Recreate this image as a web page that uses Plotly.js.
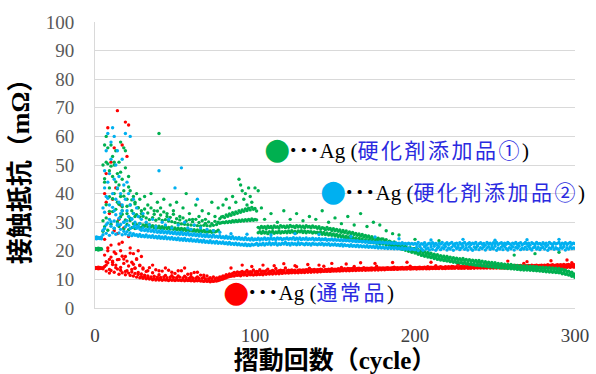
<!DOCTYPE html>
<html>
<head>
<meta charset="utf-8">
<script src="https://cdn.plot.ly/plotly-3.0.1.min.js"></script>
<style>html,body{margin:0;padding:0;background:#fff;}#chart{width:596px;height:374px;}</style>
</head>
<body>
<div id="chart"></div>
<script>
// ---- tick labels ----
const xTicks = [0, 100, 200, 300];
const yTicks = [0, 10, 20, 30, 40, 50, 60, 70, 80, 90, 100];

// ---- series names ----
const seriesNames = ["Ag (通常品)", "Ag (硬化剤添加品①)", "Ag (硬化剤添加品②)"];

// ---- 通常品 (red): two readings per cycle, cycles 0..300 ----
const redA = [
14.2,14.1,14.3,14.2,14.0,14.1,18.5,16.2,21.0,13.5,
17.8,15.2,19.6,14.1,16.9,22.4,13.2,18.1,15.6,12.8,
16.4,14.7,19.2,12.6,15.3,13.9,17.2,12.4,14.8,11.9,
13.6,11.5,12.8,11.2,14.1,10.9,12.3,11.1,13.4,10.8,
11.6,10.7,12.9,10.9,11.4,10.6,13.2,10.8,11.3,10.7,
12.1,10.6,11.2,10.8,13.0,10.5,11.1,10.6,11.8,10.4,
11.0,10.5,12.4,10.4,10.9,10.3,11.5,10.4,10.8,10.2,
11.2,10.2,10.6,10.1,10.9,10.2,10.5,10.4,10.9,10.8,
11.2,11.0,11.6,11.4,11.9,11.7,12.1,12.4,12.2,12.6,
12.3,12.5,12.8,12.4,12.6,13.1,12.5,12.7,12.6,13.3,
12.6,12.8,12.7,13.4,12.7,12.9,12.8,13.0,13.6,12.8,
12.9,13.1,12.9,13.8,12.9,13.0,13.2,13.0,13.1,14.0,
13.0,13.2,13.1,13.3,13.0,13.2,14.4,13.2,13.3,13.1,
13.3,13.2,13.4,13.3,13.9,13.4,13.3,13.5,13.3,13.4,
13.4,13.6,13.4,14.6,13.5,13.4,13.6,13.5,13.7,13.5,
13.6,13.5,13.7,13.6,14.2,13.6,13.7,13.6,13.8,13.7,
13.7,13.8,14.5,13.7,13.8,13.9,13.7,13.8,14.1,13.8,
13.9,13.8,13.9,14.0,13.8,13.9,14.6,13.9,14.0,13.9,
14.0,13.9,14.0,14.1,13.9,14.0,14.1,14.3,14.0,14.1,
14.0,14.1,14.2,14.0,14.1,14.2,14.1,14.6,14.2,14.1,
14.2,14.1,14.2,14.3,14.1,14.2,14.3,14.2,14.4,14.2,
14.3,14.2,14.3,14.8,14.2,14.3,14.4,14.3,14.2,14.4,
14.3,14.4,14.3,14.5,14.4,14.3,14.4,15.3,14.4,14.5,
14.4,14.5,14.4,14.6,14.4,14.5,14.6,14.5,14.4,14.6,
14.5,14.6,14.5,14.7,14.5,15.4,14.6,14.5,14.7,14.6,
14.6,14.7,14.6,14.8,14.6,14.7,14.8,14.6,14.7,14.8,
14.7,14.8,14.7,14.9,14.7,14.8,14.9,14.7,15.6,14.8,
14.8,14.9,14.8,15.0,14.8,14.9,15.0,14.8,14.9,15.0,
14.9,15.0,14.9,15.1,14.9,15.0,15.1,14.9,15.0,15.1,
15.0,15.1,15.0,15.2,15.0,15.1,15.2,15.0,15.1,15.2,
15.0];
const redB = [
13.8,13.9,13.7,13.8,13.9,13.7,14.5,12.9,15.8,12.2,
13.1,16.4,12.5,15.0,13.6,11.8,14.2,12.3,17.1,11.6,
13.0,12.2,11.4,13.5,11.2,12.1,10.8,11.7,10.6,11.0,
10.4,10.9,10.2,10.6,10.1,10.5,9.9,10.3,9.8,10.2,
9.8,10.1,9.7,10.0,9.8,9.9,9.6,10.0,9.7,9.9,
9.6,9.9,9.7,9.8,9.6,9.9,9.5,9.8,9.6,9.7,
9.5,9.7,9.4,9.6,9.5,9.7,9.4,9.5,9.3,9.6,
9.3,9.5,9.2,9.4,9.3,9.5,9.4,9.6,9.8,10.0,
10.1,10.4,10.6,10.8,11.0,11.1,11.3,11.2,11.5,11.4,
11.6,11.3,11.7,11.5,11.8,11.4,11.9,11.6,11.7,11.5,
11.8,11.6,11.9,11.7,11.9,11.6,12.1,11.8,12.2,11.9,
12.2,11.9,12.3,12.0,12.3,12.0,12.4,12.1,12.4,12.2,
12.4,12.2,12.4,12.3,12.6,12.3,12.6,12.3,12.7,12.4,
12.7,12.4,12.8,12.5,12.8,12.5,12.9,12.6,12.9,12.6,
12.9,12.7,12.9,12.8,12.9,12.8,13.0,12.8,13.0,12.9,
13.0,12.9,13.1,12.9,13.1,13.0,13.3,13.0,13.3,13.0,
13.3,13.1,13.4,13.1,13.4,13.2,13.4,13.2,13.5,13.2,
13.4,13.3,13.4,13.3,13.6,13.3,13.6,13.3,13.6,13.4,
13.6,13.4,13.6,13.5,13.6,13.5,13.6,13.5,13.8,13.5,
13.7,13.6,13.7,13.6,13.7,13.6,13.9,13.6,13.7,13.7,
13.8,13.6,13.8,13.7,13.8,13.7,14.0,13.7,13.8,13.7,
13.9,13.8,13.9,13.8,13.9,13.8,14.1,13.8,13.9,13.8,
14.0,13.9,14.0,13.9,14.0,13.9,14.2,13.9,14.0,13.9,
14.0,13.9,14.2,13.9,14.0,13.9,14.2,13.9,14.2,14.0,
14.1,14.0,14.1,14.0,14.1,14.0,14.3,14.0,14.1,14.0,
14.1,14.0,14.3,14.0,14.1,14.0,14.3,14.0,14.3,14.1,
14.2,14.1,14.2,14.1,14.2,14.1,14.4,14.1,14.2,14.1,
14.2,14.1,14.4,14.1,14.2,14.1,14.4,14.1,14.4,14.2,
14.3,14.2,14.3,14.2,14.3,14.2,14.5,14.2,14.3,14.2,
14.3,14.2,14.5,14.2,14.3,14.2,14.5,14.2,14.5,14.3,
14.3];
const redOutX = [8,10,12,14,17,19,20,21,7,11,13,9,15,18,16,12,6,10,14,8,17,22,24,19,26,11,13,15,7,23,25,28,30,33,36,40,44,48,52,56,60,64,68,29,27,21,16,9,6,7,
85,92,98,105,112,118,125,133,140,148,157,166,175,186,195,210,225,240,258,270,285,295,298];
const redOutY = [63,51,56,69,57,65,53,64,47,38,42,33,31,28,36,27,24,22,26,20,23,21,19,18,17,16,19,17,15,16,14,15,14,13,15,13,14,12.5,13,14,12,12.5,11.5,18,20,25,20,17,40,37,
14,15,14.5,15,14.8,15.5,14.8,15.2,15,15.6,15.4,15.8,15.6,15.9,16,16,16.3,16.1,16.4,16.2,16.5,16.8,15.8];

// ---- 硬化剤添加品① (green) ----
const greenA = [
20.8,20.7,20.9,20.8,20.7,30.5,45.2,36.1,50.4,33.8,
49.6,38.2,51.0,34.5,41.7,36.3,47.5,32.8,39.1,55.0,
35.6,42.3,31.4,37.8,33.1,36.4,32.6,35.1,31.8,34.0,
32.1,34.6,31.5,33.2,30.9,35.0,31.6,32.8,30.7,33.9,
31.2,32.5,30.6,33.6,30.9,32.0,30.4,31.7,30.2,32.8,
29.9,31.2,29.6,30.8,29.4,31.5,29.3,30.4,29.1,30.9,
29.0,30.2,28.9,31.0,28.8,29.9,28.7,30.5,28.9,29.6,
28.8,30.1,28.7,29.5,28.9,30.3,29.2,30.0,31.2,31.8,
32.0,31.6,32.5,32.1,32.9,32.4,33.3,32.8,33.6,33.1,
34.0,33.5,34.3,33.8,34.6,34.1,34.9,34.3,35.2,34.5,
34.8,33.9,28.2,27.9,28.5,28.0,28.4,27.8,28.6,28.1,
28.5,27.9,28.7,28.2,28.4,28.0,28.8,28.3,28.6,28.1,
28.7,28.2,28.9,28.4,28.6,28.1,28.8,28.3,28.7,28.2,
28.6,28.1,28.8,28.3,28.5,28.0,28.7,28.2,28.4,27.9,
28.4,27.6,28.1,27.9,27.4,28.2,27.5,27.8,27.1,27.7,
27.0,27.5,26.8,27.3,26.5,27.1,26.4,26.9,26.1,26.6,
25.9,26.4,25.7,26.1,25.4,25.9,25.2,25.7,24.9,25.4,
24.7,25.2,24.4,24.9,24.2,24.6,23.9,24.4,23.7,24.1,
24.1,23.5,23.9,22.8,23.4,23.0,22.6,23.1,22.2,22.5,
22.3,21.6,22.0,21.2,21.5,21.0,20.6,21.1,20.3,20.7,
20.8,20.1,20.4,19.6,20.0,19.3,19.7,18.9,19.4,18.8,
19.2,18.5,18.8,18.1,18.6,17.9,18.3,17.7,18.1,17.5,
18.0,17.4,17.8,17.1,17.6,16.9,17.4,16.8,17.2,16.7,
17.3,16.6,17.0,16.4,16.9,16.3,16.7,16.1,16.6,16.0,
16.6,15.9,16.4,15.7,16.2,15.6,16.0,15.4,15.9,15.3,
15.8,15.2,15.6,15.0,15.5,14.9,15.3,14.8,15.2,14.7,
15.2,14.6,15.0,14.5,14.9,14.4,14.8,14.3,14.7,14.2,
14.7,14.1,14.6,14.0,14.5,13.9,14.4,13.9,14.3,13.8,
14.3,13.7,14.2,13.6,14.1,13.5,14.0,13.4,13.9,13.3,
13.8,13.2,13.6,13.0,13.3,12.7,12.9,12.3,12.5,11.9,
11.8];
const greenB = [
20.4,20.5,20.3,20.4,20.5,26.8,28.4,31.5,27.2,38.9,
29.3,33.7,27.8,44.1,30.2,28.5,31.9,35.4,27.6,30.8,
29.2,27.4,30.6,28.1,29.5,27.8,29.1,28.4,29.6,28.2,
29.0,28.6,29.3,28.4,29.1,28.3,28.8,28.1,28.7,28.0,
28.6,27.9,28.4,27.8,28.5,27.7,28.2,27.6,28.3,27.5,
28.0,27.4,27.9,27.3,27.8,27.2,27.7,27.1,27.6,27.0,
27.5,26.9,27.4,26.8,27.3,26.7,27.2,26.7,27.1,26.6,
27.0,26.6,26.9,26.5,27.0,26.6,26.8,27.2,29.6,29.8,
30.0,29.8,30.2,29.9,30.3,30.0,30.5,30.1,30.6,30.2,
30.7,30.3,30.8,30.4,30.9,30.5,31.0,30.6,31.1,30.7,
31.0,30.8,26.3,26.7,26.1,26.8,26.2,26.6,26.0,26.7,
26.2,26.8,26.1,26.6,26.3,26.9,26.2,26.7,26.4,26.8,
26.3,26.9,26.4,27.0,26.5,26.8,26.3,26.9,26.6,27.0,
26.4,26.9,26.3,26.8,26.5,26.7,26.2,26.6,26.3,26.5,
26.0,26.6,25.8,26.4,25.7,26.2,25.5,26.1,25.4,25.9,
25.2,25.7,25.0,25.5,24.8,25.3,24.6,25.1,24.4,24.9,
24.2,24.7,24.0,24.5,23.8,24.3,23.6,24.1,23.4,23.9,
23.2,23.7,23.0,23.5,22.8,23.3,22.6,23.1,22.4,22.9,
22.4,22.9,22.0,22.6,21.8,22.2,21.5,21.9,21.2,21.6,
20.9,21.3,20.5,20.9,20.2,20.5,19.8,20.2,19.5,19.9,
19.2,19.5,18.8,19.1,18.4,18.7,18.1,18.4,17.8,18.0,
17.6,17.9,17.3,17.6,17.0,17.3,16.8,17.1,16.6,16.8,
16.4,16.7,16.2,16.5,16.0,16.3,15.8,16.1,15.7,15.9,
15.5,15.8,15.4,15.6,15.2,15.5,15.1,15.3,14.9,15.2,
14.8,15.1,14.7,14.9,14.6,14.8,14.4,14.7,14.3,14.6,
14.2,14.5,14.1,14.4,14.0,14.3,13.9,14.2,13.8,14.1,
13.7,14.0,13.6,13.9,13.5,13.8,13.4,13.7,13.3,13.6,
13.3,13.6,13.2,13.5,13.1,13.4,13.0,13.3,12.9,13.2,
12.8,13.1,12.7,13.0,12.6,12.9,12.5,12.8,12.4,12.6,
12.3,12.5,12.0,12.2,11.8,11.9,11.5,11.6,11.1,11.3,
10.7];
const greenOutX = [5,6,6,7,7,8,9,9,10,11,11,12,12,13,14,14,15,15,16,16,17,17,18,18,19,20,20,21,22,22,23,24,25,25,26,27,28,29,31,33,35,37,39,40,41,43,45,47,49,51,53,55,57,59,61,63,65,67,69,71,73,75,77,
80,82,84,86,88,90,91,92,93,94,95,96,97,98,100,102,104,
106,110,114,118,122,126,130,134,138,142,146,150,154,158,162,166,170,174,178,182,186,190,
200,215,238,255,262,275,290];
const greenOutY = [50,57,44,51,60,56,48,42,57,46,53,50,40,55,37,47,51,43,39,58,45,34,56,41,49,38,33,46,36,41,34,39,32,37,40,35,38,33,39,36,40,34,37,61,35,38,33,36,34,37,32,35,40,33,31,36,32,34,31,33,37,32,35,
36,38,35,39,37,45,43,41,38,40,36,42,39,37,42,41,35,
31,33,30,34,31,33,30.5,32,31,34,30,31.5,29.5,32,29,33,28.5,30,29,27,26,25.5,
24,23.5,21,22,18.5,19,19.5];

// ---- 硬化剤添加品② (blue) ----
const blueA = [
24.7,24.8,24.7,24.6,24.8,27.2,33.5,29.1,38.4,31.0,
28.6,35.2,30.4,32.6,28.9,31.4,29.2,34.0,30.0,28.4,
30.5,28.9,27.8,31.2,28.3,28.9,27.9,28.6,27.6,27.2,
28.0,27.1,27.5,26.9,27.7,26.8,27.2,26.6,27.4,26.5,
26.9,26.4,27.1,26.3,26.7,26.2,26.8,26.1,26.5,26.0,
26.6,25.9,26.3,25.8,26.5,25.7,26.1,25.6,26.3,25.5,
25.9,25.4,26.0,25.3,25.7,25.2,25.9,25.1,25.5,25.0,
25.7,24.9,25.3,24.8,25.5,24.8,25.1,24.7,25.3,24.6,
24.9,24.5,25.1,24.4,24.8,24.3,24.9,24.2,24.6,24.1,
24.7,24.0,24.4,23.9,24.6,23.9,24.2,23.8,24.4,23.8,
24.1,23.9,24.4,23.8,24.2,24.0,24.5,23.9,24.3,24.0,
24.6,24.0,24.3,23.9,24.5,24.1,24.4,23.9,24.2,24.1,
24.5,24.0,24.3,24.1,24.6,23.9,24.4,24.0,24.5,23.9,
24.3,24.0,24.5,23.9,24.2,24.0,24.4,23.8,24.2,23.9,
24.3,23.8,24.1,23.9,24.2,23.7,24.0,23.8,24.1,23.7,
24.0,23.7,23.9,23.6,23.9,23.5,23.8,23.5,23.7,23.4,
23.7,23.3,23.6,23.2,23.5,23.2,23.4,23.1,23.4,23.0,
23.3,22.9,23.2,22.9,23.1,22.8,23.0,22.8,23.1,22.7,
23.0,22.7,22.9,22.6,22.9,22.6,22.8,22.5,22.8,22.5,
22.7,22.4,22.8,22.4,22.6,22.3,22.7,22.3,22.6,22.3,
22.6,22.2,22.9,22.0,22.5,22.3,22.8,21.9,22.4,22.7,
22.1,22.8,22.3,22.6,21.9,22.7,22.4,22.9,22.0,22.5,
22.8,22.2,22.6,22.9,22.1,22.5,22.7,22.0,22.8,22.3,
22.6,22.9,22.1,22.5,22.8,22.2,22.7,22.4,22.9,22.0,
22.5,22.8,22.3,22.6,22.0,22.9,22.4,22.7,22.1,22.8,
22.4,22.9,22.2,22.6,22.8,22.1,22.7,22.3,22.9,22.5,
22.0,22.7,22.4,22.9,22.2,22.6,22.8,22.1,22.5,22.9,
22.3,22.7,22.0,22.8,22.5,22.2,22.9,22.4,22.6,22.1,
22.8,22.3,22.7,22.0,22.9,22.5,22.2,22.8,22.4,22.6,
22.9,22.1,22.7,22.4,22.8,22.2,22.6,22.9,22.3,22.7,
22.5];
const blueB = [
24.3,24.2,24.4,24.3,24.2,25.6,27.8,26.1,29.7,25.4,
30.2,26.3,27.9,25.8,29.4,26.2,27.5,25.6,26.8,25.9,
26.7,25.5,26.2,25.3,26.0,25.4,25.6,25.1,25.7,25.0,
25.4,24.9,25.5,24.8,25.2,24.7,25.3,24.6,25.0,24.5,
25.1,24.4,24.8,24.3,24.9,24.2,24.6,24.1,24.7,24.0,
24.4,23.9,24.5,23.8,24.2,23.7,24.3,23.6,24.0,23.5,
24.1,23.4,23.8,23.3,23.9,23.2,23.6,23.1,23.7,23.0,
23.4,22.9,23.5,22.8,23.2,22.7,23.3,22.6,23.0,22.6,
23.1,22.5,22.8,22.4,22.9,22.3,22.6,22.2,22.7,22.1,
22.5,22.0,22.3,21.9,22.4,21.8,22.2,21.8,22.3,22.0,
22.2,22.6,21.9,22.4,22.1,22.7,22.0,22.5,22.3,22.8,
22.1,22.6,22.3,22.8,22.0,22.5,22.2,22.7,22.4,22.9,
22.2,22.6,22.0,22.7,22.3,22.5,22.1,22.8,22.2,22.6,
22.4,22.1,22.7,22.2,22.5,22.0,22.6,22.3,22.4,22.1,
22.5,22.2,22.6,22.0,22.4,22.1,22.5,21.9,22.3,22.0,
22.4,21.9,22.2,21.8,22.3,21.7,22.1,21.8,22.0,21.6,
22.1,21.6,21.9,21.5,22.0,21.4,21.8,21.4,21.7,21.3,
21.8,21.2,21.6,21.2,21.5,21.1,21.6,21.0,21.4,21.0,
21.3,20.9,21.2,20.8,21.3,20.8,21.1,20.7,21.2,20.7,
21.0,20.6,21.1,20.5,20.9,20.5,21.0,20.4,20.8,20.5,
20.4,21.2,20.1,21.5,20.7,20.2,21.4,20.6,21.0,20.3,
21.3,20.5,21.6,20.2,20.9,21.4,20.4,21.1,20.8,21.5,
20.3,21.0,20.6,21.3,20.2,21.6,20.8,21.2,20.4,21.0,
21.5,20.5,21.1,20.3,21.4,20.7,20.2,21.3,20.6,21.6,
20.4,21.1,20.8,21.5,20.3,21.0,21.4,20.5,21.2,20.7,
21.6,20.2,21.0,20.6,21.3,20.4,21.5,20.8,20.3,21.1,
20.7,21.4,20.3,21.2,20.9,21.6,20.4,21.0,20.6,21.3,
20.5,21.5,20.8,20.3,21.1,21.4,20.6,21.2,20.4,21.0,
21.3,20.6,21.5,20.2,21.0,20.8,21.4,20.5,21.1,20.7,
20.4,21.2,20.9,21.5,20.3,21.1,20.6,21.4,20.8,21.0,
20.9];
const blueOutX = [5,6,6,7,7,8,8,9,9,10,10,11,11,12,12,12,13,13,14,14,15,15,16,16,17,17,18,18,19,19,20,20,21,21,22,22,23,24,24,25,26,27,28,29,30,32,34,36,38,40,42,44,46,48,50,52,54,56,58,60,62,64,66,70,74,78,
85,95,110,125,140,160,175,190,210,230,250,270,290];
const blueOutY = [35,42,48,39,55,44,61,36,47,52,58,40,63,34,45,60,38,50,42,55,37,46,33,40,52,36,43,30,38,61,34,44,32,40,60,36,31,38,33,30,35,32,29.5,31,33,30,29,31,28.5,48,30,29,31,28,42,29,49,30,28,27.5,29,38,28,27.5,27,26.5,
26,25.8,25.5,26,25.7,25,24.8,24.2,23.8,24,23.7,23.9,24];

// ---- build traces from the arrays ----
const cycles = redA.map((_, i) => i);
function series(name, a, b, ox, oy, color) {
  return {
    type: 'scatter', mode: 'markers', name: name,
    x: cycles.concat(cycles, ox),
    y: a.concat(b, oy),
    marker: {color: color, size: 3.4, line: {width: 0}},
    cliponaxis: true,
    hoverinfo: 'x+y'
  };
}
const RED = '#ff0000', GREEN = '#00b050', BLUE = '#00b0f0';
const data = [
  series(seriesNames[0], redA, redB, redOutX, redOutY, RED),
  series(seriesNames[1], greenA, greenB, greenOutX, greenOutY, GREEN),
  series(seriesNames[2], blueA, blueB, blueOutX, blueOutY, BLUE)
];

const LABEL_FONT = {family: "'Liberation Serif', 'Noto Sans CJK JP', serif", size: 21, color: '#000'};
const CJK_BLUE = "<span style=\"color:#2a2ae0;font-family:'Noto Sans CJK JP';font-size:21px;letter-spacing:2.5px\">";
const DOTS = "<span style=\"font-family:'Noto Sans CJK JP';font-weight:bold\">･･･</span>";
function dot(x, y, color) {
  return {x: x, y: y, xref: 'x', yref: 'y', text: '●', showarrow: false,
          xanchor: 'center', yanchor: 'middle',
          font: {family: "'DejaVu Sans'", size: 30, color: color}};
}
function label(x, y, inner) {
  return {x: x, y: y, xref: 'x', yref: 'y', showarrow: false,
          xanchor: 'left', yanchor: 'middle',
          text: DOTS + "Ag (" + CJK_BLUE + inner + "</span>)", font: LABEL_FONT};
}

const layout = {
  width: 596, height: 374,
  margin: {l: 95, r: 21, t: 22, b: 66},
  paper_bgcolor: '#ffffff', plot_bgcolor: '#ffffff',
  showlegend: false,
  xaxis: {
    range: [0, 300], tickvals: xTicks, ticktext: xTicks.map(String),
    showgrid: false, zeroline: false, showline: true, linecolor: '#d9d9d9', linewidth: 1,
    ticks: '', ticklabelstandoff: 10,
    tickfont: {family: "'Liberation Serif', serif", size: 19, color: '#404040'},
    title: {text: '摺動回数（cycle）', standoff: 6,
            font: {family: "'Liberation Serif', 'Noto Sans CJK JP', serif", size: 25, color: '#000', weight: 'bold'}}
  },
  yaxis: {
    range: [0, 100], tickvals: yTicks, ticktext: yTicks.map(String),
    showgrid: true, gridcolor: '#d9d9d9', gridwidth: 1,
    zeroline: false, showline: true, linecolor: '#d9d9d9', linewidth: 1,
    ticks: '', ticklabelstandoff: 16,
    tickfont: {family: "'Liberation Serif', serif", size: 19, color: '#595959'},
    title: {text: '接触抵抗（mΩ）', standoff: 8,
            font: {family: "'Liberation Serif', 'Noto Sans CJK JP', serif", size: 26, color: '#000', weight: 'bold'}}
  },
  annotations: [
    dot(113.75, 55.6, GREEN), label(119.5, 55.6, '硬化剤添加品①'),
    dot(148.75, 41, BLUE), label(154.5, 41, '硬化剤添加品②'),
    dot(88, 5.9, RED), label(93.8, 5.9, '通常品')
  ]
};

Plotly.newPlot('chart', data, layout, {staticPlot: true, displayModeBar: false});
</script>
</body>
</html>
